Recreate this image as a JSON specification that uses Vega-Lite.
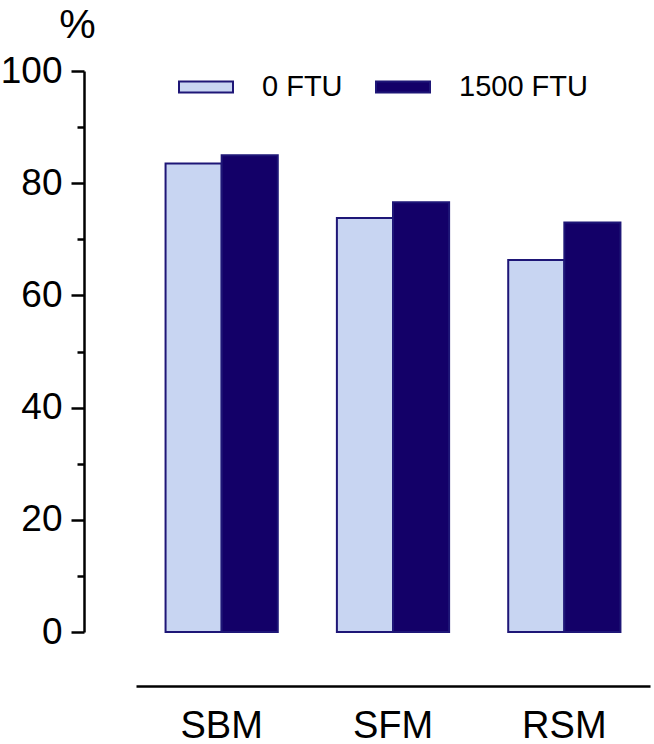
{
  "$schema": "https://vega.github.io/schema/vega-lite/v6.json",
  "width": 514,
  "height": 561,
  "autosize": {"type": "none"},
  "padding": {"left": 136, "top": 71, "right": 4, "bottom": 112},
  "config": {"view": {"stroke": null}, "font": "Liberation Sans", "axis": {"grid": false}},
  "data": {"values": [
    {"diet": "SBM", "ftu": "0 FTU", "value": 83.5},
    {"diet": "SBM", "ftu": "1500 FTU", "value": 85.0},
    {"diet": "SFM", "ftu": "0 FTU", "value": 73.8},
    {"diet": "SFM", "ftu": "1500 FTU", "value": 76.6},
    {"diet": "RSM", "ftu": "0 FTU", "value": 66.3},
    {"diet": "RSM", "ftu": "1500 FTU", "value": 73.0}
  ]},
  "encoding": {
    "x": {"field": "diet", "type": "nominal", "sort": ["SBM", "SFM", "RSM"],
      "scale": {"paddingInner": 0.345, "paddingOuter": 0.1725},
      "axis": {"orient": "bottom", "offset": 54, "ticks": false, "domainWidth": 2.5, "domainColor": "black",
        "labelFontSize": 38, "labelPadding": 21, "labelColor": "black", "labelAngle": 0, "title": null}}
  },
  "layer": [
    {
      "mark": {"type": "bar", "stroke": "#1e1677", "strokeWidth": 2},
      "encoding": {
        "xOffset": {"field": "ftu", "type": "nominal", "sort": ["0 FTU", "1500 FTU"], "scale": {"paddingInner": 0, "paddingOuter": 0}},
        "y": {"field": "value", "type": "quantitative", "scale": {"domain": [0, 100], "nice": false},
          "axis": {"values": [0, 20, 40, 60, 80, 100], "orient": "left", "offset": 52, "domainWidth": 2.5, "domainColor": "black",
            "tickSize": 13, "tickWidth": 2.5, "tickColor": "black", "labelFontSize": 37, "labelPadding": 9, "labelColor": "black",
            "title": "%", "titleAngle": 0, "titleX": -7, "titleY": -34, "titleAlign": "center", "titleBaseline": "alphabetic",
            "titleFontSize": 41, "titleFontWeight": "normal", "titleColor": "black"}},
        "color": {"field": "ftu", "type": "nominal", "sort": ["0 FTU", "1500 FTU"],
          "scale": {"range": ["#c8d5f2", "#130068"]},
          "legend": {"orient": "none", "legendX": 42, "legendY": -12, "direction": "horizontal", "title": null,
            "symbolType": "M-1,-0.2L1,-0.2L1,0.2L-1,0.2Z", "symbolSize": 2916, "symbolStrokeWidth": 2,
            "symbolStrokeColor": "#1e1677", "symbolOpacity": 1, "labelFontSize": 29, "labelOffset": 28,
            "columnPadding": 29, "padding": 0, "labelColor": "black"}}
      }
    },
    {
      "mark": {"type": "bar", "opacity": 0},
      "encoding": {
        "y": {"field": "value", "type": "quantitative", "stack": null, "scale": {"domain": [0, 100], "nice": false},
          "axis": {"values": [10, 30, 50, 70, 90], "orient": "left", "offset": 52, "domain": false, "labels": false,
            "tickSize": 7, "tickWidth": 2.5, "tickColor": "black", "title": null}}
      }
    }
  ],
  "resolve": {"axis": {"y": "independent"}}
}
